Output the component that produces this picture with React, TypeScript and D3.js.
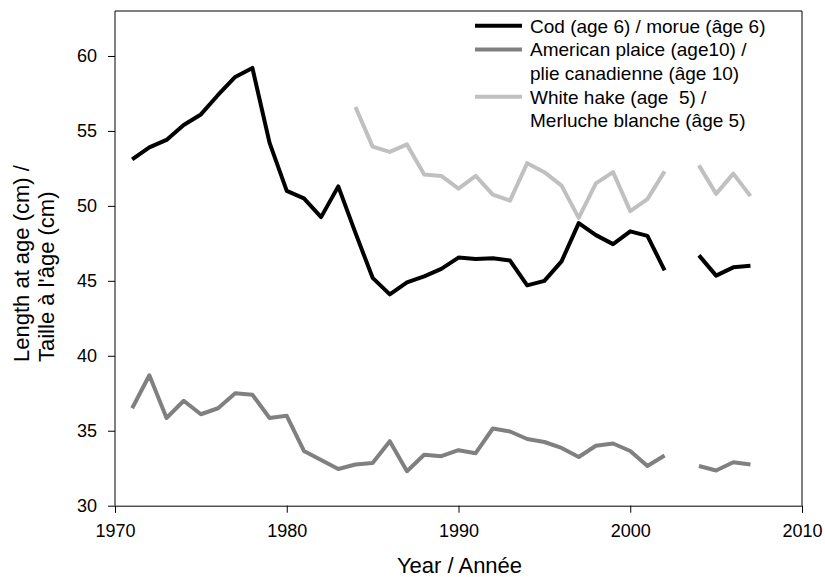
import { useEffect, useRef } from 'react';
import * as d3 from 'd3';

const years: number[] = d3.range(1971, 2008);

const cod: (number | null)[] = [
  53.1, 53.9, 54.4, 55.4, 56.1, 57.4, 58.6, 59.2, 54.2, 51.0,
  50.5, 49.25, 51.3, 48.2, 45.2, 44.1, 44.9, 45.3, 45.8, 46.55,
  46.45, 46.5, 46.35, 44.7, 45.0, 46.3, 48.85, 48.05, 47.45, 48.3,
  48.0, 45.7, null, 46.7, 45.35, 45.9, 46.0,
];

const plaice: (number | null)[] = [
  36.5, 38.7, 35.85, 37.0, 36.1, 36.5, 37.5, 37.4, 35.85, 36.0,
  33.65, 33.05, 32.45, 32.75, 32.85, 34.3, 32.3, 33.4, 33.3, 33.7,
  33.5, 35.15, 34.95, 34.45, 34.25, 33.85, 33.25, 34.0, 34.15, 33.65,
  32.65, 33.35, null, 32.65, 32.35, 32.9, 32.75,
];

const hake: (number | null)[] = [
  null, null, null, null, null, null, null, null, null, null,
  null, null, null, 56.6, 53.95, 53.6, 54.1, 52.1, 52.0, 51.15,
  52.0, 50.75, 50.35, 52.85, 52.25, 51.35, 49.2, 51.5, 52.25, 49.65,
  50.45, 52.3, null, 52.7, 50.8, 52.15, 50.65,
];

const xTicks = [1970, 1980, 1990, 2000, 2010];
const yTicks = [30, 35, 40, 45, 50, 55, 60];

const seriesNames: string[][] = [
  ['Cod (age 6) / morue (âge 6)'],
  ['American plaice (age10) /', 'plie canadienne (âge 10)'],
  ['White hake (age  5) /', 'Merluche blanche (âge 5)'],
];
const seriesColors = ['#000000', '#808080', '#c0c0c0'];
const seriesValues = [cod, plaice, hake];

const FONT = 'Arial, "Liberation Sans", sans-serif';

const App = () => {
  const svgRef = useRef<SVGSVGElement>(null);

  useEffect(() => {
    if (!svgRef.current) return;
    const svg = d3.select(svgRef.current);
    svg.selectAll('*').remove();

    const left = 115, right = 802, top = 11, bottom = 505.7;

    const x = d3.scaleLinear().domain([1970, 2010]).range([left, right]);
    const y = d3.scaleLinear().domain([30, 63]).range([bottom, top]);

    // frame (top + right)
    svg.append('path')
      .attr('d', `M${left},${top}H${right}V${bottom}`)
      .attr('fill', 'none')
      .attr('stroke', '#000')
      .attr('stroke-width', 1);

    // axes
    const xAxis = svg.append('g')
      .attr('transform', `translate(0,${bottom})`)
      .call(d3.axisBottom(x).tickValues(xTicks).tickFormat(d3.format('d')).tickSizeOuter(0).tickSize(7).tickPadding(12));
    const yAxis = svg.append('g')
      .attr('transform', `translate(${left},0)`)
      .call(d3.axisLeft(y).tickValues(yTicks).tickSizeOuter(0).tickSize(7).tickPadding(11));

    [xAxis, yAxis].forEach(g => {
      g.select('.domain').attr('stroke', '#000');
      g.selectAll('line').attr('stroke', '#000');
      g.selectAll('text')
        .attr('fill', '#000')
        .attr('font-family', FONT)
        .attr('font-size', 18);
    });
    // y axis domain should span the full plot height
    yAxis.select('.domain').attr('d', `M0,${bottom}V${top}`);

    // series lines
    seriesValues.forEach((vals, i) => {
      const line = d3.line<number | null>()
        .defined(d => d !== null)
        .x((_, j) => x(years[j]))
        .y(d => y(d as number));
      svg.append('path')
        .datum(vals)
        .attr('d', line)
        .attr('fill', 'none')
        .attr('stroke', seriesColors[i])
        .attr('stroke-width', 4)
        .attr('stroke-linejoin', 'round');
    });

    // legend
    const lineH = 23.7;
    let row = 0;
    seriesNames.forEach((lines, i) => {
      const ly = 25.7 + row * lineH;
      svg.append('line')
        .attr('x1', 475).attr('x2', 522)
        .attr('y1', ly).attr('y2', ly)
        .attr('stroke', seriesColors[i])
        .attr('stroke-width', 4);
      lines.forEach((t, k) => {
        svg.append('text')
          .attr('x', 530)
          .attr('y', ly + k * lineH + 6.8)
          .attr('font-family', FONT)
          .attr('font-size', 19)
          .attr('fill', '#000')
          .style('white-space', 'pre')
          .text(t);
      });
      row += lines.length;
    });

    // axis titles
    svg.append('text')
      .attr('x', (left + right) / 2 + 1)
      .attr('y', 573)
      .attr('text-anchor', 'middle')
      .attr('font-family', FONT)
      .attr('font-size', 22)
      .attr('fill', '#000')
      .text('Year / Année');

    const yTitle = svg.append('text')
      .attr('transform', 'translate(29,362) rotate(-90)')
      .attr('font-family', FONT)
      .attr('font-size', 22)
      .attr('fill', '#000');
    yTitle.append('tspan').attr('x', 0).attr('y', 0).text('Length at age (cm) /');
    yTitle.append('tspan').attr('x', 0).attr('y', 24.5).text("Taille à l'âge (cm)");
  }, []);

  return (
    <svg
      ref={svgRef}
      width={825}
      height={577}
      style={{ position: 'absolute', left: 0, top: 0, background: '#fff' }}
    />
  );
};

export default App;
